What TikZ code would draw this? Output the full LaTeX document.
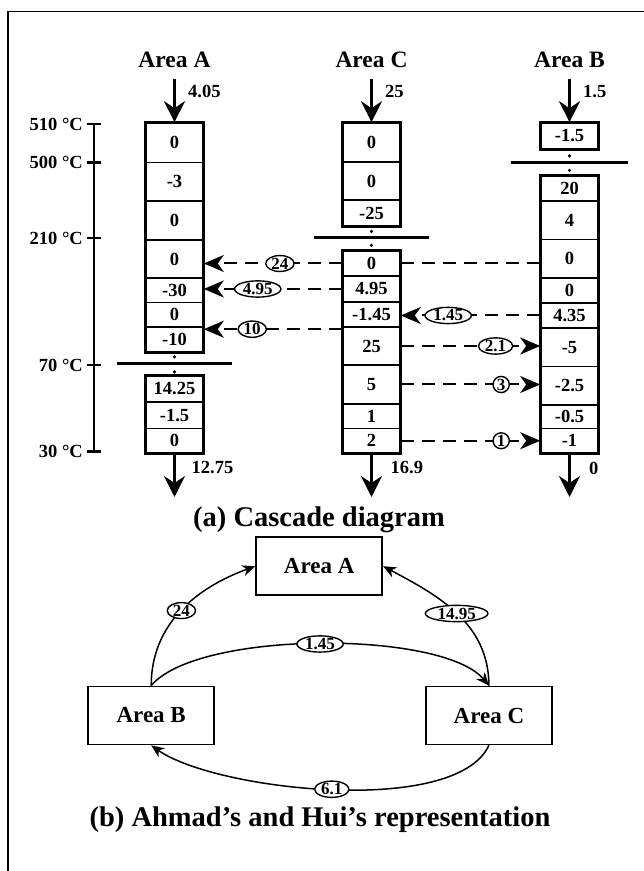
\documentclass[tikz,border=0pt]{standalone}
\usepackage{fontspec}
\setmainfont{Liberation Serif}
\usepackage{tikz}
\usetikzlibrary{arrows.meta,shapes,positioning,calc}

\tikzset{
  cell/.style={draw, line width=1.6pt, minimum width=57pt, inner sep=0pt,
               font=\fontsize{18.5}{18.5}\selectfont\bfseries},
  outer/.style={draw, line width=3.2pt},
  pinch/.style={line width=3pt},
  dot/.style={circle, fill, inner sep=0pt, minimum size=3.5pt},
  flow/.style={line width=2pt, dash pattern=on 13pt off 8pt},
  flowarr/.style={flow, -{Stealth[length=20pt,width=17pt,inset=6pt]}},
  bigarr/.style={line width=2.6pt, -{Stealth[length=21pt,width=21pt,inset=7pt]}},
  lab/.style={ellipse, draw, solid, fill=white, line width=1.4pt, inner xsep=1.5pt,
              inner ysep=0pt, font=\fontsize{17}{17}\selectfont\bfseries},
  num/.style={font=\fontsize{18.5}{18.5}\selectfont\bfseries, inner sep=0pt},
  title/.style={font=\fontsize{23.5}{23.5}\selectfont\bfseries, inner sep=0pt},
  caption/.style={font=\fontsize{28.5}{28.5}\selectfont\bfseries, inner sep=0pt},
  areabox/.style={draw, line width=1.8pt, minimum width=126pt, minimum height=58pt,
                  font=\fontsize{23}{23}\selectfont\bfseries},
  curve/.style={line width=1.5pt, -{Stealth[length=13pt,width=11pt,inset=4pt]}}
}

\begin{document}
\begin{tikzpicture}[x=1pt,y=1pt]
  \useasboundingbox (0,0) rectangle (644,871);
  \draw[line width=1.2pt] (8,0) -- (8,859.5) -- (644,859.5);

  % temperature scale
  \draw[line width=2.5pt] (94,747) -- (94,419.3);
  \foreach \t/\y [count=\i] in {510/747, 500/708.3, 210/633, 70/506, 30/419.3} {
    \draw[line width=2.5pt] (87,\y) -- (101,\y);
    \node[num, anchor=east] (t\i) at (83,\y) {\t{} °C};
  }

  % column A
  \foreach \t/\b/\v [count=\i] in {748/708.5/0, 708.5/670/-3, 670/631/0, 631/593/0,
      593/568.5/-30, 568.5/544/0, 544/519/-10, 495/469/14.25, 469/442.5/-1.5, 442.5/418/0}
    \node[cell, minimum height={(\t-\b)*1pt}] (a\i) at (174.5,{(\t+\b)/2}) {\v};
  \draw[outer] (a1.north west) rectangle (a7.south east);
  \draw[outer] (a8.north west) rectangle (a10.south east);
  \draw[pinch] (117,507) -- (232,507);
  \node[dot] (ad1) at (174.5,514) {};
  \node[dot] (ad2) at (174.5,499) {};

  % column C
  \foreach \t/\b/\v [count=\i] in {748/709/0, 709/671/0, 671/645/-25, 620/595/0,
      595/569/4.95, 569/544/-1.45, 544/506/25, 506/467/5, 467/442.5/1, 442.5/418/2}
    \node[cell, minimum height={(\t-\b)*1pt}] (c\i) at (371.5,{(\t+\b)/2}) {\v};
  \draw[outer] (c1.north west) rectangle (c3.south east);
  \draw[outer] (c4.north west) rectangle (c10.south east);
  \draw[pinch] (314,633) -- (429,633);
  \node[dot] (cd1) at (371.5,639.5) {};
  \node[dot] (cd2) at (371.5,625.5) {};

  % column B
  \foreach \t/\b/\v [count=\i] in {748/722/-1.5, 695/670/20, 670/631.5/4, 631.5/593/0,
      593/568/0, 568/543/4.35, 543/504.5/-5, 504.5/466/-2.5, 466/442.5/-0.5, 442.5/418/-1}
    \node[cell, minimum height={(\t-\b)*1pt}] (b\i) at (569.5,{(\t+\b)/2}) {\v};
  \draw[outer] (b1.north west) rectangle (b1.south east);
  \draw[outer] (b2.north west) rectangle (b10.south east);
  \draw[pinch] (511,708.3) -- (628,708.3);
  \node[dot] (bd1) at (569.5,715) {};
  \node[dot] (bd2) at (569.5,700.5) {};

  % titles, inlets and outlets
  \node[title, anchor=base] (ta) at (174.5,803) {Area A};
  \node[title, anchor=base] (tc) at (371.5,803) {Area C};
  \node[title, anchor=base] (tb) at (569.5,803) {Area B};
  \coordinate (ina) at (174.5,792);
  \coordinate (inc) at (371.5,792);
  \coordinate (inb) at (569.5,792);
  \draw[bigarr] (ina) -- (a1.north);
  \draw[bigarr] (inc) -- (c1.north);
  \draw[bigarr] (inb) -- (b1.north);
  \node[num, anchor=west] (ina-lab) at (188,779.5) {4.05};
  \node[num, anchor=west] (inc-lab) at (385,779.5) {25};
  \node[num, anchor=west] (inb-lab) at (583,779.5) {1.5};
  \coordinate (outa) at (174.5,374);
  \coordinate (outc) at (371.5,374);
  \coordinate (outb) at (569.5,374);
  \draw[bigarr] (a10.south) -- (outa);
  \draw[bigarr] (c10.south) -- (outc);
  \draw[bigarr] (b10.south) -- (outb);
  \node[num, anchor=west] (outa-lab) at (191.5,403) {12.75};
  \node[num, anchor=west] (outc-lab) at (390.5,403) {16.9};
  \node[num, anchor=west] (outb-lab) at (589,403) {0};

  % heat flows
  \draw[flow] (b4.west |- c4.west) -- (c4.east);
  \draw[flowarr] (c4.west) -- node[lab, pos=0.45] (f24) {24} (a4.east |- c4.west);
  \draw[flowarr] (c5.west) -- node[lab, pos=0.61] (f495) {4.95} (a5.east |- c5.west);
  \draw[flowarr] (b6.west) -- node[lab, pos=0.66] (f145) {1.45} (c6.east |- b6.west);
  \draw[flowarr] ([yshift=-3pt]c7.north west) -- node[lab, pos=0.65] (f10) {10}
        ([yshift=-3pt]c7.north west -| a7.east);
  \draw[flowarr] (c7.east) -- node[lab, pos=0.68] (f21) {2.1} (b7.west |- c7.east);
  \draw[flowarr] (c8.east) -- node[lab, pos=0.72] (f3) {3} (b8.west |- c8.east);
  \draw[flowarr] (c10.east) -- node[lab, pos=0.72] (f1) {1} (b10.west);

  \node[caption, anchor=base] (capa) at (319,344) {(a) Cascade diagram};

  % representation
  \node[areabox] (pa) at (319.2,304.8) {Area A};
  \node[areabox] (pb) at (151.2,155.5) {Area B};
  \node[areabox] (pc) at (488.9,155.5) {Area C};
  \draw[curve] (pb.north) to[out=90,in=200] node[lab] (r24) {24} (pa.west);
  \draw[curve] (pc.north) to[out=90,in=-28] node[lab, inner xsep=3pt] (r1495) {14.95} (pa.east);
  \draw[curve] (pb.north) to[out=50,in=130,looseness=0.55] node[lab] (r145) {1.45} (pc.north);
  \draw[curve] (pc.south) to[out=245,in=-35,looseness=0.6] node[lab] (r61) {6.1} (pb.south);

  \node[caption, anchor=base] (capb) at (320,45) {(b) Ahmad’s and Hui’s representation};
\end{tikzpicture}
\end{document}
